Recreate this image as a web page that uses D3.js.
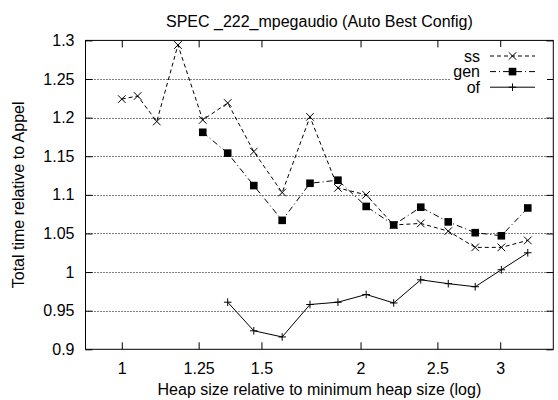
<!DOCTYPE html>
<html>
<head>
<meta charset="utf-8">
<script src="https://cdn.jsdelivr.net/npm/d3@7"></script>
<style>
  html, body { margin: 0; padding: 0; background: #fff; }
  svg { display: block; }
  text { font-family: "Liberation Sans", Arial, Helvetica, sans-serif; fill: #000; }
</style>
</head>
<body>
<svg id="chart" width="558" height="400"></svg>
<script>
// ---- data ----
const heapSizes = [1.0, 1.047, 1.107, 1.177, 1.265, 1.36, 1.467, 1.593, 1.727, 1.873, 2.033, 2.202, 2.382, 2.58, 2.79, 3.01, 3.25];
const ssValues  = [1.224, 1.228, 1.195, 1.294, 1.197, 1.219, 1.156, 1.103, 1.201, 1.109, 1.100, 1.061, 1.063, 1.053, 1.032, 1.032, 1.041];
const genValues = [null, null, null, null, 1.181, 1.154, 1.112, 1.067, 1.115, 1.119, 1.085, 1.061, 1.084, 1.065, 1.051, 1.047, 1.083];
const ofValues  = [null, null, null, null, null, 0.961, 0.924, 0.916, 0.958, 0.961, 0.971, 0.960, 0.990, 0.985, 0.981, 1.003, 1.025];
const seriesNames = ["ss", "gen", "of"];
const xTickValues = [1, 1.25, 1.5, 2, 2.5, 3];
const yTickValues = [0.9, 0.95, 1, 1.05, 1.1, 1.15, 1.2, 1.25, 1.3];
const chartTitle = "SPEC _222_mpegaudio (Auto Best Config)";
const xTitle = "Heap size relative to minimum heap size (log)";
const yTitle = "Total time relative to Appel";

// ---- layout ----
const W = 558, H = 400;
const L = 85.5, R = 553.3, T = 40.4, B = 349.3;
const FS = 16;

const svg = d3.select("#chart");
const x = d3.scaleLog().domain([0.9, 3.5]).range([L, R]);
const y = d3.scaleLinear().domain([0.9, 1.3]).range([B, T]);

// gridlines (y only)
svg.append("g").selectAll("line")
  .data(yTickValues.filter(v => v > 0.9 && v < 1.3))
  .join("line")
  .attr("x1", L).attr("x2", R)
  .attr("y1", d => Math.round(y(d)) + 0.5).attr("y2", d => Math.round(y(d)) + 0.5)
  .attr("stroke", "#000").attr("stroke-width", 1).attr("stroke-dasharray", "1,2");

// axes using d3 axis generators, ticks inward
const tickLen = 7;
const xAxisB = d3.axisBottom(x).tickValues(xTickValues).tickFormat(d => String(d)).tickSizeInner(-tickLen).tickSizeOuter(0).tickPadding(tickLen + 6);
const xAxisT = d3.axisTop(x).tickValues(xTickValues).tickFormat("").tickSizeInner(-tickLen).tickSizeOuter(0);
const yAxisL = d3.axisLeft(y).tickValues(yTickValues).tickFormat(d => String(+d.toFixed(2))).tickSizeInner(-tickLen).tickSizeOuter(0).tickPadding(tickLen + 4);
const yAxisR = d3.axisRight(y).tickValues(yTickValues).tickFormat("").tickSizeInner(-tickLen).tickSizeOuter(0);

function styleAxis(g) {
  g.select(".domain").remove();
  g.selectAll("line").attr("stroke", "#000").attr("stroke-width", 1);
  g.selectAll("text").attr("font-size", FS).attr("fill", "#000")
    .style("font-family", '"Liberation Sans", Arial, sans-serif');
}
svg.append("g").attr("transform", `translate(0,${B})`).call(xAxisB).call(styleAxis);
svg.append("g").attr("transform", `translate(0,${T})`).call(xAxisT).call(styleAxis);
svg.append("g").attr("transform", `translate(${L},0)`).call(yAxisL).call(styleAxis);
svg.append("g").attr("transform", `translate(${R},0)`).call(yAxisR).call(styleAxis);

// frame
svg.append("rect").attr("x", L).attr("y", T).attr("width", R - L).attr("height", B - T)
  .attr("fill", "none").attr("stroke", "#000").attr("stroke-width", 1);

// series
const styles = {
  ss:  { dash: "4,3", marker: "x" },
  gen: { dash: "6,3,1,3", marker: "sq" },
  of:  { dash: null, marker: "plus" }
};
const seriesData = {
  ss: heapSizes.map((h, i) => ({ h, v: ssValues[i] })).filter(d => d.v != null),
  gen: heapSizes.map((h, i) => ({ h, v: genValues[i] })).filter(d => d.v != null),
  of: heapSizes.map((h, i) => ({ h, v: ofValues[i] })).filter(d => d.v != null)
};
const line = d3.line().x(d => x(d.h)).y(d => y(d.v));

function drawMarker(g, type, cx, cy) {
  const s = 3.8;
  if (type === "x") {
    g.append("path").attr("d", `M${cx - s},${cy - s}L${cx + s},${cy + s}M${cx - s},${cy + s}L${cx + s},${cy - s}`)
      .attr("stroke", "#000").attr("stroke-width", 1).attr("fill", "none");
  } else if (type === "sq") {
    g.append("rect").attr("x", cx - s).attr("y", cy - s).attr("width", 2 * s).attr("height", 2 * s).attr("fill", "#000");
  } else {
    g.append("path").attr("d", `M${cx - s},${cy}L${cx + s},${cy}M${cx},${cy - s}L${cx},${cy + s}`)
      .attr("stroke", "#000").attr("stroke-width", 1).attr("fill", "none");
  }
}

seriesNames.forEach(name => {
  const g = svg.append("g");
  g.append("path").datum(seriesData[name]).attr("d", line)
    .attr("fill", "none").attr("stroke", "#000").attr("stroke-width", 1)
    .attr("stroke-dasharray", styles[name].dash);
  seriesData[name].forEach(d => drawMarker(g, styles[name].marker, x(d.h), y(d.v)));
});

// legend
const legX = 480, legY0 = 56, legDy = 15.6;
svg.append("rect").attr("x", 450).attr("y", 47).attr("width", 97).attr("height", 49).attr("fill", "#fff");
seriesNames.forEach((name, i) => {
  const cy = legY0 + i * legDy;
  const g = svg.append("g");
  g.append("text").attr("x", legX).attr("y", cy).attr("dy", "0.35em").attr("text-anchor", "end")
    .attr("font-size", FS).text(name);
  g.append("line").attr("x1", 490).attr("x2", 535).attr("y1", cy).attr("y2", cy)
    .attr("stroke", "#000").attr("stroke-width", 1).attr("stroke-dasharray", styles[name].dash);
  drawMarker(g, styles[name].marker, 512.5, cy);
});

// titles
svg.append("text").attr("x", (L + R) / 2).attr("y", 27).attr("text-anchor", "middle")
  .attr("font-size", FS).text(chartTitle);
svg.append("text").attr("x", (L + R) / 2).attr("y", 395).attr("text-anchor", "middle")
  .attr("font-size", FS).text(xTitle);
svg.append("text").attr("transform", `translate(24,${(T + B) / 2}) rotate(-90)`).attr("text-anchor", "middle")
  .attr("font-size", FS).text(yTitle);
</script>
</body>
</html>
